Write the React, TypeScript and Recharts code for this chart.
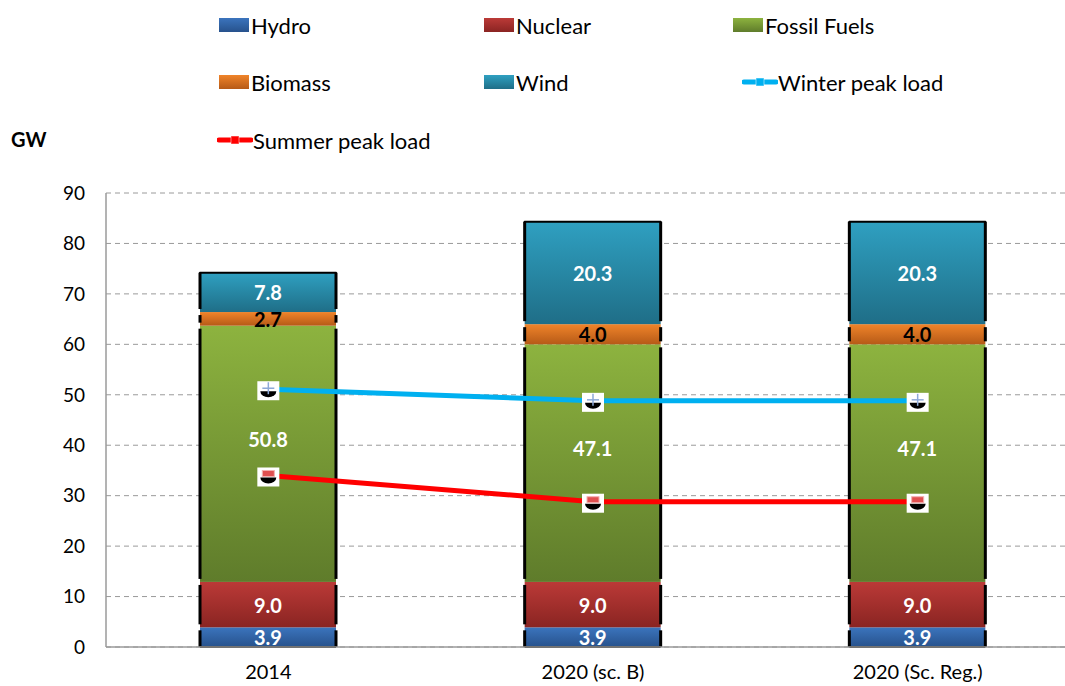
import React from 'react'
import {
  ComposedChart,
  Bar,
  Line,
  XAxis,
  YAxis,
  CartesianGrid,
  LabelList,
} from 'recharts'

const categories = ['2014', '2020 (sc. B)', '2020 (Sc. Reg.)']
const hydro = [3.9, 3.9, 3.9]
const nuclear = [9.0, 9.0, 9.0]
const fossil = [50.8, 47.1, 47.1]
const biomass = [2.7, 4.0, 4.0]
const wind = [7.8, 20.3, 20.3]
const winterPeak = [51.1, 48.8, 48.8]
const summerPeak = [34.0, 28.8, 28.8]
const yTicks = [0, 10, 20, 30, 40, 50, 60, 70, 80, 90]

const data = categories.map((name, i) => ({
  name,
  hydro: hydro[i],
  nuclear: nuclear[i],
  fossil: fossil[i],
  biomass: biomass[i],
  wind: wind[i],
  winter: winterPeak[i],
  summer: summerPeak[i],
}))

const FONT = 'Lato, "Open Sans", sans-serif'

const gradients = [
  { id: 'gHydro', top: '#3b74bd', bottom: '#27528c' },
  { id: 'gNuclear', top: '#bb3a37', bottom: '#8a2422' },
  { id: 'gFossil', top: '#8db33f', bottom: '#5f7c2b' },
  { id: 'gBiomass', top: '#f0842a', bottom: '#b65a17' },
  { id: 'gWind', top: '#2fa0c1', bottom: '#1f6e87' },
]

// segment with black side borders, like the Excel shadowed bars
const segment = (isTop: boolean, isBottom: boolean) => (props: any) => {
  const { x, y, width, height, fill } = props
  if (!height) return <g />
  const t = isTop ? y : y + 3
  const b = isBottom ? y + height : y + height - 3
  return (
    <g>
      <rect x={x} y={y} width={width} height={height} fill={fill} />
      <line x1={x} y1={t} x2={x} y2={b} stroke="#000" strokeWidth={3} />
      <line x1={x + width} y1={t} x2={x + width} y2={b} stroke="#000" strokeWidth={3} />
      {isTop && (
        <line x1={x} y1={y} x2={x + width} y2={y} stroke="#000" strokeWidth={2} strokeLinecap="round" />
      )}
      {isBottom && (
        <line x1={x} y1={y + height} x2={x + width} y2={y + height} stroke="#000" strokeWidth={2} />
      )}
    </g>
  )
}

const Marker = ({ cx, cy, sign }: any) => {
  if (cx == null || cy == null) return <g />
  const color = sign === '+' ? '#8ea9d8' : '#e05050'
  return (
    <g>
      <rect x={cx - 11} y={cy - 8} width={22} height={19} fill="#fff" />
      <path d={`M${cx - 8},${cy + 2} A8,6 0 0 0 ${cx + 8},${cy + 2} Z`} fill="#000" />
      {sign === '+' ? (
        <g stroke={color} strokeWidth={1.5}>
          <line x1={cx - 6} y1={cy - 1} x2={cx + 6} y2={cy - 1} />
          <line x1={cx} y1={cy - 7} x2={cx} y2={cy + 5} />
        </g>
      ) : (
        <rect x={cx - 6} y={cy - 5} width={12} height={6} fill={color} stroke="#f4b0b0" strokeWidth={1} />
      )}
    </g>
  )
}

const valueLabel = (color: string, dy = 0) => (props: any) => {
  const { x, y, width, height, value } = props
  return (
    <text
      x={x + width / 2}
      y={y + height / 2 + dy}
      textAnchor="middle"
      dominantBaseline="central"
      fill={color}
      fontFamily={FONT}
      fontWeight={700}
      fontSize={20}
    >
      {Number(value).toFixed(1)}
    </text>
  )
}

const legendItems = [
  { label: 'Hydro', kind: 'box', color: 'gHydro', left: 219, top: 25 },
  { label: 'Nuclear', kind: 'box', color: 'gNuclear', left: 484, top: 25 },
  { label: 'Fossil Fuels', kind: 'box', color: 'gFossil', left: 733, top: 25 },
  { label: 'Biomass', kind: 'box', color: 'gBiomass', left: 219, top: 82 },
  { label: 'Wind', kind: 'box', color: 'gWind', left: 484, top: 82 },
  { label: 'Winter peak load', kind: 'line', color: '#00b0f0', left: 742, top: 82 },
  { label: 'Summer peak load', kind: 'line', color: '#ff0000', left: 217, top: 140 },
]

function LegendBlock() {
  return (
    <>
      {legendItems.map((it) => {
        const g = gradients.find((d) => d.id === it.color)
        return (
          <div
            key={it.label}
            style={{
              position: 'absolute',
              left: it.left,
              top: it.top - 14,
              height: 28,
              display: 'flex',
              alignItems: 'center',
              fontFamily: FONT,
              fontSize: 22,
              color: '#000',
              whiteSpace: 'nowrap',
            }}
          >
            {it.kind === 'box' ? (
              <div
                style={{
                  width: 30,
                  height: 14,
                  marginRight: 2,
                  background: `linear-gradient(${g!.top}, ${g!.bottom})`,
                }}
              />
            ) : (
              <svg width={36} height={14} style={{ marginRight: 0 }}>
                <line x1={2} y1={7} x2={34} y2={7} stroke={it.color} strokeWidth={5} strokeLinecap="round" />
                <rect x={14} y={3} width={8} height={8} fill={it.color} stroke="#fff" strokeOpacity={0.5} />
              </svg>
            )}
            <span>{it.label}</span>
          </div>
        )
      })}
      <div
        style={{
          position: 'absolute',
          left: 11,
          top: 127,
          fontFamily: FONT,
          fontWeight: 700,
          fontSize: 20,
          color: '#000',
        }}
      >
        GW
      </div>
    </>
  )
}

export default function App() {
  return (
    <div
      style={{
        position: 'absolute',
        left: 0,
        top: 0,
        width: 1065,
        height: 686,
        overflow: 'hidden',
        background: '#fff',
      }}
    >
      <LegendBlock />
      <ComposedChart
        width={1080}
        height={686}
        data={data}
        margin={{ top: 193, right: 0, left: 0, bottom: 0 }}
        barCategoryGap={94}
      >
        <defs>
          {gradients.map((g) => (
            <linearGradient key={g.id} id={g.id} x1="0" y1="0" x2="0" y2="1">
              <stop offset="0%" stopColor={g.top} />
              <stop offset="100%" stopColor={g.bottom} />
            </linearGradient>
          ))}
        </defs>
        <CartesianGrid vertical={false} strokeDasharray="5 4" stroke="#9a9a9a" />
        <XAxis
          dataKey="name"
          height={39}
          tickLine={false}
          tickSize={0}
          tickMargin={18}
          axisLine={{ stroke: '#9a9a9a', strokeWidth: 1.5 }}
          tick={{ fill: '#000', fontSize: 20, fontFamily: FONT }}
        />
        <YAxis
          width={106}
          domain={[0, 90]}
          ticks={yTicks}
          interval={0}
          tickLine={false}
          tickSize={0}
          tickMargin={21}
          axisLine={{ stroke: '#9a9a9a', strokeWidth: 1.5 }}
          tick={{ fill: '#000', fontSize: 19, fontFamily: FONT }}
        />
        <Bar dataKey="hydro" stackId="a" barSize={136} fill="url(#gHydro)" shape={segment(false, true)} isAnimationActive={false}>
          <LabelList dataKey="hydro" content={valueLabel('#fff')} />
        </Bar>
        <Bar dataKey="nuclear" stackId="a" barSize={136} fill="url(#gNuclear)" shape={segment(false, false)} isAnimationActive={false}>
          <LabelList dataKey="nuclear" content={valueLabel('#fff')} />
        </Bar>
        <Bar dataKey="fossil" stackId="a" barSize={136} fill="url(#gFossil)" shape={segment(false, false)} isAnimationActive={false}>
          <LabelList dataKey="fossil" content={valueLabel('#fff', -15)} />
        </Bar>
        <Bar dataKey="biomass" stackId="a" barSize={136} fill="url(#gBiomass)" shape={segment(false, false)} isAnimationActive={false}>
          <LabelList dataKey="biomass" content={valueLabel('#000')} />
        </Bar>
        <Bar dataKey="wind" stackId="a" barSize={136} fill="url(#gWind)" shape={segment(true, false)} isAnimationActive={false}>
          <LabelList dataKey="wind" content={valueLabel('#fff')} />
        </Bar>
        <Line
          type="linear"
          dataKey="winter"
          stroke="#00b0f0"
          strokeWidth={5}
          dot={(p: any) => <Marker key={`w${p.index}`} {...p} sign="+" />}
          activeDot={false}
          isAnimationActive={false}
        />
        <Line
          type="linear"
          dataKey="summer"
          stroke="#ff0000"
          strokeWidth={5}
          dot={(p: any) => <Marker key={`s${p.index}`} {...p} sign="-" />}
          activeDot={false}
          isAnimationActive={false}
        />
      </ComposedChart>
    </div>
  )
}
